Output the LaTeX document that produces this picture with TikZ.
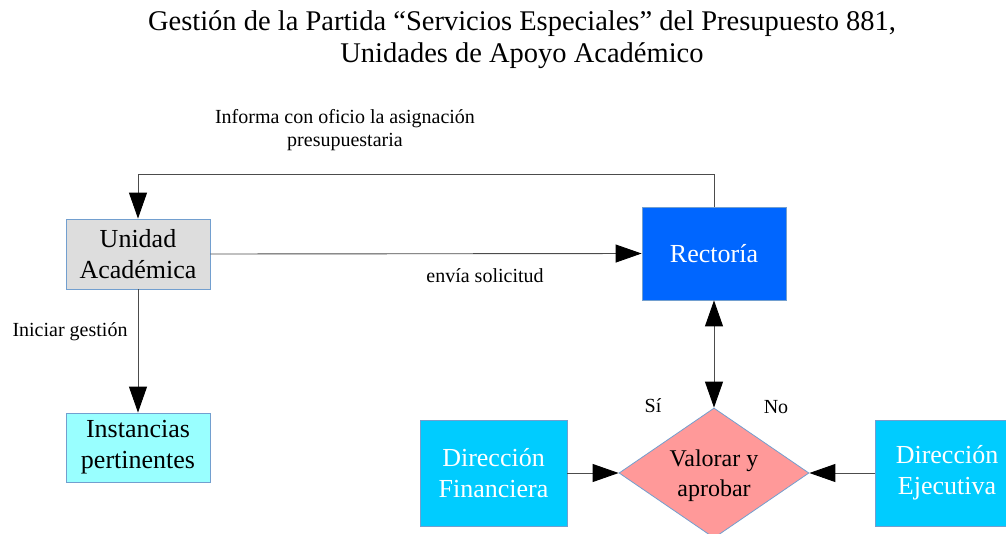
\documentclass[tikz,border=0pt]{standalone}
\usepackage{fontspec}
\setmainfont{Liberation Serif}
\usetikzlibrary{shapes.geometric, arrows.meta}
\definecolor{boxline}{HTML}{729FCF}
\definecolor{unidadgray}{HTML}{DDDDDD}
\definecolor{instcyan}{HTML}{99FFFF}
\definecolor{rectblue}{HTML}{0066FF}
\definecolor{dircyan}{HTML}{00CCFF}
\definecolor{valpink}{HTML}{FF9999}
\tikzset{
    > = {Triangle[length=26pt, width=18pt, color=black]},
    flow/.style = {->, draw=black!70, line width=0.9pt},
    box/.style = {draw=boxline, line width=0.8pt, align=center,
        font=\fontsize{26}{31}\selectfont, inner sep=0pt},
    lbl/.style = {align=center, font=\fontsize{20}{23}\selectfont}
}

\begin{document}
\begin{tikzpicture}[x=1pt, y=-1pt]
    \useasboundingbox (0,0) rectangle (1006,533);

    \node[align=center, font=\fontsize{28.5}{32}\selectfont] (title) at (522,40)
        {Gestión de la Partida “Servicios Especiales” del Presupuesto 881,\\
         Unidades de Apoyo Académico};

    \node[box, fill=unidadgray, minimum width=144pt, minimum height=70pt] (unidad) at (138,254) {Unidad\\Académica};
    \node[box, fill=instcyan, minimum width=144pt, minimum height=69pt] (instancias) at (138,447.5) {Instancias\\pertinentes};
    \node[box, fill=rectblue, text=white, minimum width=144pt, minimum height=93pt] (rectoria) at (714,253.5) {Rectoría};
    \node[box, draw=boxline, fill=valpink, shape=diamond, aspect=1.46,
        minimum width=190pt, minimum height=130pt, font=\fontsize{24}{30}\selectfont] (valorar) at (714,473) {\rule{0pt}{22pt}Valorar y\\aprobar};
    \node[box, fill=dircyan, text=white, minimum width=147pt, minimum height=106pt] (financiera) at (493.5,473) {Dirección\\Financiera};
    \node[box, fill=dircyan, text=white, minimum width=144pt, minimum height=106pt] (ejecutiva) at (947,473) {Dirección\\Ejecutiva};

    \draw[flow] (rectoria.north) -- ++(0,-32) -| (unidad.north);
    \draw[flow] (unidad.east) -- (rectoria.west);
    \draw[flow] (unidad.south) -- (instancias.north);
    \draw[flow, <->] (rectoria.south) -- (valorar.north);
    \draw[flow] (financiera.east) -- (valorar.west);
    \draw[flow] (ejecutiva.west) -- (valorar.east);

    \node[lbl] (informa) at (345,130) {Informa con oficio la asignación\\presupuestaria};
    \node[lbl] (envia) at (485,276) {envía solicitud};
    \node[lbl] (iniciar) at (70,332) {Iniciar gestión};
    \node[lbl] (si) at (653,406) {Sí};
    \node[lbl] (no) at (776,407) {No};
\end{tikzpicture}
\end{document}
